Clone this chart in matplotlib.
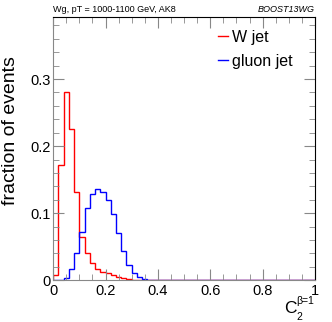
import matplotlib
matplotlib.use("Agg")
import matplotlib.pyplot as plt
import numpy as np
from matplotlib.ticker import MultipleLocator

plt.rcParams['font.family'] = ['Liberation Sans', 'DejaVu Sans']

# 50 bins of width 0.02 over [0, 1]
bin_edges = np.linspace(0, 1, 51)

w_jet = [0.0075, 0.172, 0.281, 0.225, 0.132, 0.065, 0.041, 0.026, 0.017, 0.012,
         0.010, 0.0075, 0.005, 0.0025, 0.0015, 0.0008, 0.0004, 0.0002]
gluon_jet = [0.0, 0.0, 0.003, 0.016, 0.040, 0.072, 0.107, 0.128, 0.136, 0.132,
             0.120, 0.098, 0.070, 0.043, 0.023, 0.011, 0.005, 0.002, 0.0008]

w_jet = np.pad(w_jet, (0, 50 - len(w_jet)))
gluon_jet = np.pad(gluon_jet, (0, 50 - len(gluon_jet)))

x_ticks = [0, 0.2, 0.4, 0.6, 0.8, 1]
x_labels = ['0', '0.2', '0.4', '0.6', '0.8', '1']
y_ticks = [0, 0.1, 0.2, 0.3]
y_labels = ['0', '0.1', '0.2', '0.3']

fig = plt.figure(figsize=(3.32, 3.22), dpi=100)
ax = fig.add_axes([0.16, 0.13, 0.789, 0.818])

ax.stairs(w_jet, bin_edges, color='#ff0000', lw=1.0, label='W jet')
ax.stairs(gluon_jet, bin_edges, color='#0000ff', lw=1.0, label='gluon jet')

ax.set_xlim(0, 1)
ax.set_ylim(0, 0.393)
ax.set_xticks(x_ticks)
ax.set_xticklabels(x_labels)
ax.set_yticks(y_ticks)
ax.set_yticklabels(y_labels)
ax.xaxis.set_minor_locator(MultipleLocator(0.05))
ax.yaxis.set_minor_locator(MultipleLocator(0.02))
ax.tick_params(which='both', direction='in', top=True, right=True,
               labelsize=10.5, color='#888888', pad=2)
ax.tick_params(which='major', length=8)
ax.tick_params(which='minor', length=4)
ax.tick_params(axis='x', pad=3)

for side in ['left', 'bottom']:
    ax.spines[side].set_color('#888888')
for side in ['top', 'right']:
    ax.spines[side].set_color('black')

ax.set_ylabel('fraction of events', fontsize=14, loc='top')
ax.yaxis.set_label_coords(-0.13, 0.85)

# x axis title C_2^{beta=1}, built from three pieces like ROOT's TLatex
fig.text(0.856, 0.028, 'C', fontsize=12.5, ha='left', va='baseline')
fig.text(0.893, 0.056, 'β=1', fontsize=7.5, ha='left', va='baseline')
fig.text(0.894, 0.006, '2', fontsize=7.5, ha='left', va='baseline')

fig.text(0.16, 0.958, 'Wg, pT = 1000-1100 GeV, AK8', fontsize=6.5, ha='left', va='bottom')
fig.text(0.949, 0.958, 'BOOST13WG', fontsize=6.5, style='italic', ha='right', va='bottom')

ax.legend(loc='upper left', bbox_to_anchor=(0.605, 0.975), frameon=False, fontsize=11.5,
          handlelength=0.6, handletextpad=0.3, labelspacing=0.55, borderaxespad=0)

fig.savefig('out.png', dpi=100)
